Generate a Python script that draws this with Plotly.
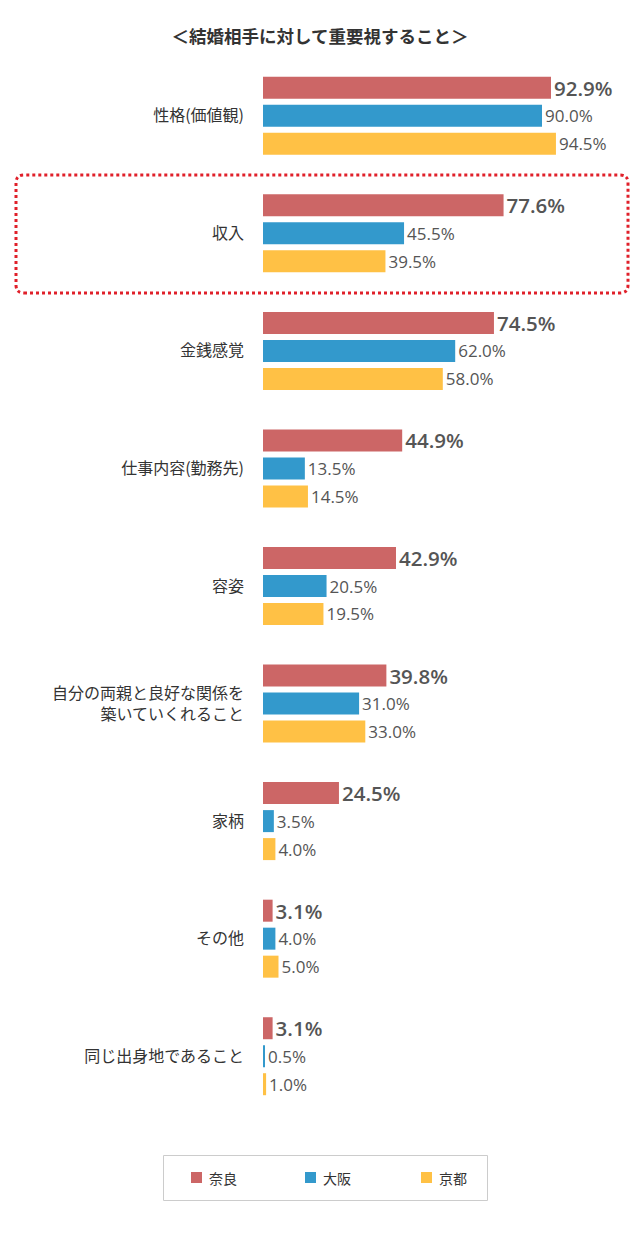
import plotly.graph_objects as go

categories = ["性格(価値観)", "収入", "金銭感覚", "仕事内容(勤務先)", "容姿",
              "自分の両親と良好な関係を<br>築いていくれること", "家柄", "その他", "同じ出身地であること"]
series_names = ["奈良", "大阪", "京都"]
nara = [92.9, 77.6, 74.5, 44.9, 42.9, 39.8, 24.5, 3.1, 3.1]
osaka = [90.0, 45.5, 62.0, 13.5, 20.5, 31.0, 3.5, 4.0, 0.5]
kyoto = [94.5, 39.5, 58.0, 14.5, 19.5, 33.0, 4.0, 5.0, 1.0]
title_text = "＜結婚相手に対して重要視すること＞"

colors = ["#cc6666", "#3399cc", "#ffc145"]
values = [nara, osaka, kyoto]

W, H = 640, 1252
ML, MR, MT, MB = 263, 67, 57, 137
PW, PH = W - ML - MR, H - MT - MB

NUM_FONT = "Open Sans, Liberation Sans, Arial"
JP_FONT = "Noto Sans CJK JP, sans-serif"

fig = go.Figure()
for i, (name, vals, col) in enumerate(zip(series_names, values, colors)):
    bold = (i == 0)
    fig.add_trace(go.Bar(
        y=categories, x=vals, name=name, orientation="h",
        marker=dict(color=col, line=dict(width=0)),
        text=[f"{v:.1f}%" for v in vals],
        textposition="outside",
        constraintext="none",
        cliponaxis=False,
        textfont=dict(family=NUM_FONT, size=20.5 if bold else 17,
                      color="#555555", weight=600 if bold else "normal"),
        hoverinfo="skip",
        showlegend=False,
    ))


def px_x(p):
    return (p - ML) / PW


def px_y(p):
    return 1 - (p - MT) / PH


# dotted highlight around 収入 (pixel-based box converted to paper coords)
bx0, bx1, by0, by1 = px_x(16), px_x(628), px_y(293), px_y(175)
rx, ry = 8 / PW, 8 / PH
path = (f"M {bx0+rx},{by0} L {bx1-rx},{by0} Q {bx1},{by0} {bx1},{by0+ry} "
        f"L {bx1},{by1-ry} Q {bx1},{by1} {bx1-rx},{by1} "
        f"L {bx0+rx},{by1} Q {bx0},{by1} {bx0},{by1-ry} "
        f"L {bx0},{by0+ry} Q {bx0},{by0} {bx0+rx},{by0} Z")
fig.add_shape(type="path", path=path, xref="paper", yref="paper",
              line=dict(color="#e0202a", width=3, dash="dot"), layer="above")

# manual legend
fig.add_shape(type="rect", xref="paper", yref="paper",
              x0=px_x(163.5), x1=px_x(487.5), y0=px_y(1200.5), y1=px_y(1155.5),
              line=dict(color="#cccccc", width=1), fillcolor="white")
legend_x = [191, 305, 421]
for name, col, lx in zip(series_names, colors, legend_x):
    fig.add_shape(type="rect", xref="paper", yref="paper",
                  x0=px_x(lx), x1=px_x(lx + 11), y0=px_y(1183), y1=px_y(1172),
                  line=dict(width=0), fillcolor=col)
    fig.add_annotation(text=name, xref="paper", yref="paper",
                       x=px_x(lx + 16), y=px_y(1177.5), xanchor="left", yanchor="middle",
                       showarrow=False,
                       font=dict(family=JP_FONT, size=14, color="#333333"))

fig.update_layout(
    width=W, height=H,
    margin=dict(l=ML, r=MR, t=MT, b=MB),
    paper_bgcolor="white", plot_bgcolor="white",
    barmode="group", bargap=0.2857, bargroupgap=0.214,
    title=dict(text=f"<b>{title_text}</b>", x=0.5, xanchor="center", xref="container",
               y=1 - 37 / H, yanchor="middle", yref="container",
               font=dict(family=JP_FONT, size=17.5, color="#333333")),
    xaxis=dict(range=[0, 100], visible=False, fixedrange=True),
    yaxis=dict(autorange="reversed", showgrid=False, zeroline=False, showline=False,
               ticks="", ticklabelstandoff=18, fixedrange=True,
               tickfont=dict(family=JP_FONT, size=16, color="#333333")),
    showlegend=False,
)

fig.write_html("out.html", config={"displayModeBar": False},
               post_script="document.body.style.margin='0';")
